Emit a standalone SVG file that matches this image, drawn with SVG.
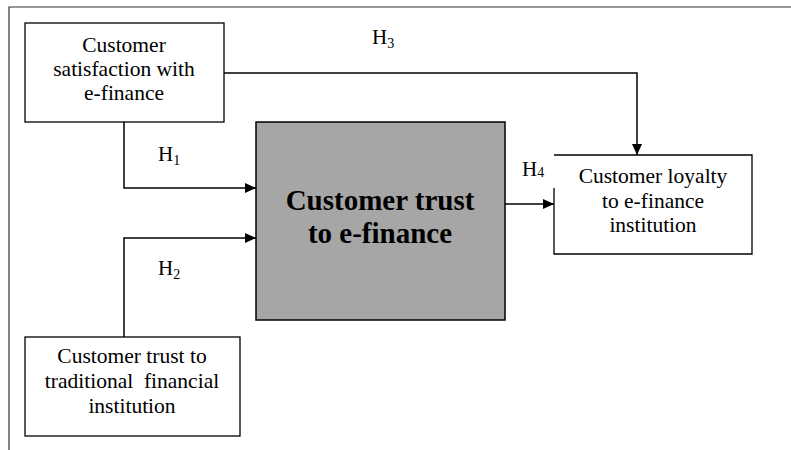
<svg xmlns="http://www.w3.org/2000/svg" width="791" height="450" viewBox="0 0 791 450">
<style>
.box{fill:#fff;stroke:#000;stroke-width:1.3}
.t{font-family:"Liberation Serif","Times New Roman",serif;font-size:21.5px;fill:#000;text-anchor:middle}
.b{font-family:"Liberation Serif","Times New Roman",serif;font-size:29px;font-weight:bold;fill:#000;text-anchor:middle}
.h{font-family:"Liberation Serif","Times New Roman",serif;font-size:21px;fill:#000}
.sub{font-size:14px}
.c{fill:none;stroke:#000;stroke-width:1.5}
</style>
<defs>
<marker id="ah" markerWidth="11" markerHeight="10" refX="11" refY="5" orient="auto" markerUnits="userSpaceOnUse">
<path d="M0,0 L11,5 L0,10 Z" fill="#000"/>
</marker>
</defs>
<rect width="791" height="450" fill="#fff"/>
<path d="M9,450 V7 H791" fill="none" stroke="#333" stroke-width="1.2"/>
<g id="n1">
<rect class="box" x="25" y="23" width="199" height="99"/>
<text class="t" x="124" y="52">Customer</text>
<text class="t" x="124" y="76">satisfaction with</text>
<text class="t" x="124" y="100">e-finance</text>
</g>
<g id="n2">
<rect x="256" y="122" width="249" height="198" fill="#a6a6a6" stroke="#000" stroke-width="1.5"/>
<text class="b" x="380" y="210">Customer trust</text>
<text class="b" x="380" y="243">to e-finance</text>
</g>
<g id="n3">
<path class="box" d="M554,188 V254 H752 V155 H554"/>
<text class="t" x="653" y="183">Customer loyalty</text>
<text class="t" x="653" y="208">to e-finance</text>
<text class="t" x="653" y="232">institution</text>
</g>
<g id="n4">
<rect class="box" x="25" y="337" width="215" height="99"/>
<text class="t" x="132" y="363">Customer trust to</text>
<text class="t" x="132" y="388" xml:space="preserve">traditional  financial</text>
<text class="t" x="132" y="413">institution</text>
</g>
<g id="connectors">
<path class="c" d="M224,73 H637 V155" marker-end="url(#ah)"/>
<path class="c" d="M124,122 V188 H256" marker-end="url(#ah)"/>
<path class="c" d="M124,337 V238 H256" marker-end="url(#ah)"/>
<path class="c" d="M505,204 H554" marker-end="url(#ah)"/>
<text class="h" x="372" y="44">H<tspan class="sub" dy="4">3</tspan></text>
<text class="h" x="158" y="161">H<tspan class="sub" dy="4">1</tspan></text>
<text class="h" x="158" y="275">H<tspan class="sub" dy="4">2</tspan></text>
<text class="h" x="522" y="176">H<tspan class="sub" dy="1">4</tspan></text>
</g>
</svg>
